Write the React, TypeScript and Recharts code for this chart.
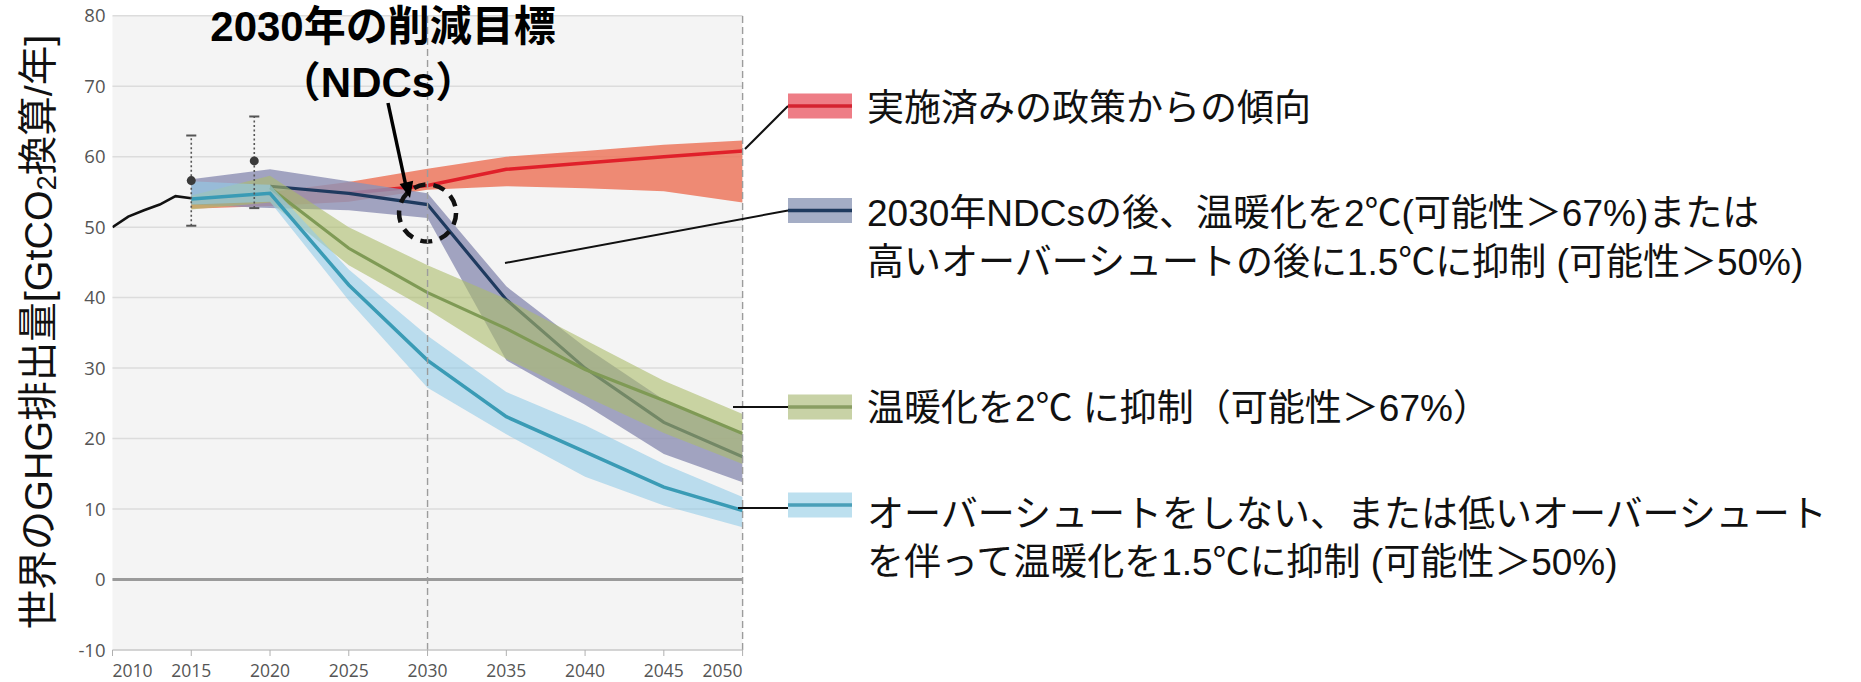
import React from "react";
import {
  ComposedChart,
  Area,
  Line,
  XAxis,
  YAxis,
  CartesianGrid,
  ReferenceLine,
  ReferenceDot,
} from "recharts";

// Historical emissions (GtCO2e / yr)
const histYears = [2010, 2011, 2012, 2013, 2014, 2015];
const histValues = [50.0, 51.5, 52.4, 53.2, 54.4, 54.1];

// Scenario years
const scenarioYears = [2015, 2020, 2025, 2030, 2035, 2040, 2045, 2050];

// Trend from implemented policies
const policyLow = [52.6, 53.0, 53.6, 55.3, 55.8, 55.5, 55.1, 53.5];
const policyMid = [null, null, 54.8, 55.9, 58.2, 59.1, 60.0, 60.8];
const policyHigh = [53.8, 55.0, 56.4, 58.3, 60.0, 60.8, 61.7, 62.3];

// NDCs to 2030, then 2°C / 1.5°C with high overshoot
const ndcLow = [53.2, 52.7, 52.4, 51.3, 31.1, 24.8, 17.8, 13.8];
const ndcMid = [null, 55.8, 54.8, 53.2, 39.7, 30.0, 22.3, 17.4];
const ndcHigh = [56.8, 58.2, 56.5, 54.8, 41.6, 33.0, 25.5, 20.7];

// Limit warming to 2°C
const twoLow = [52.5, 53.5, 44.6, 38.3, 31.3, 26.0, 20.8, 16.4];
const twoMid = [null, 55.6, 47.0, 40.7, 35.6, 29.8, 25.4, 20.7];
const twoHigh = [54.5, 57.3, 50.0, 44.6, 39.8, 34.0, 28.2, 23.5];

// Limit warming to 1.5°C with no or limited overshoot
const oneFiveLow = [53.2, 53.6, 39.6, 27.2, 20.6, 14.6, 10.5, 7.4];
const oneFiveMid = [54.0, 54.8, 41.8, 31.1, 23.1, 18.1, 13.1, 9.8];
const oneFiveHigh = [56.5, 56.0, 44.0, 34.6, 26.6, 21.9, 16.4, 11.7];

// Uncertainty ranges of recent estimates
const errYears = [2015, 2019];
const errMid = [56.6, 59.4];
const errLow = [50.2, 52.7];
const errHigh = [63.0, 65.7];

const xTicks = [2010, 2015, 2020, 2025, 2030, 2035, 2040, 2045, 2050];
const yTicks = [-10, 0, 10, 20, 30, 40, 50, 60, 70, 80];

const legendLabels = [
  ["実施済みの政策からの傾向"],
  [
    "2030年NDCsの後、温暖化を2℃(可能性＞67%)または",
    "高いオーバーシュートの後に1.5℃に抑制 (可能性＞50%)",
  ],
  ["温暖化を2℃ に抑制（可能性＞67%）"],
  [
    "オーバーシュートをしない、または低いオーバーシュート",
    "を伴って温暖化を1.5℃に抑制 (可能性＞50%)",
  ],
];

const allYears = Array.from(new Set([...histYears, ...scenarioYears])).sort(
  (a, b) => a - b
);

const rows = allYears.map((year) => {
  const h = histYears.indexOf(year);
  const s = scenarioYears.indexOf(year);
  const pick = (arr: (number | null)[]) => (s >= 0 ? arr[s] : null);
  const range = (lo: number[], hi: number[]) => (s >= 0 ? [lo[s], hi[s]] : null);
  return {
    year,
    hist: h >= 0 ? histValues[h] : null,
    policyRange: range(policyLow, policyHigh),
    policyMid: pick(policyMid),
    ndcRange: range(ndcLow, ndcHigh),
    ndcMid: pick(ndcMid),
    twoRange: range(twoLow, twoHigh),
    twoMid: pick(twoMid),
    oneFiveRange: range(oneFiveLow, oneFiveHigh),
    oneFiveMid: pick(oneFiveMid),
  };
});

const TICK_FONT = "'Open Sans', 'DejaVu Sans', sans-serif";
const TEXT_FONT = "'Liberation Sans', 'Noto Sans CJK JP', sans-serif";

const XTick = (props: any) => {
  const { x, y, payload } = props;
  const v = payload.value;
  const anchor = v === 2010 ? "start" : v === 2050 ? "end" : "middle";
  return (
    <text
      x={x}
      y={y}
      dy="0.71em"
      textAnchor={anchor}
      fill="#555"
      fontSize={17.5}
      fontFamily={TICK_FONT}
    >
      {v}
    </text>
  );
};

const YTick = (props: any) => {
  const { x, y, payload } = props;
  return (
    <text
      x={x}
      y={y}
      dy="0.355em"
      textAnchor="end"
      fill="#555"
      fontSize={18.5}
      fontFamily={TICK_FONT}
    >
      {payload.value}
    </text>
  );
};

// Each scenario: a shaded range and its median curve, stacked in this order
const scenarios = [
  { range: "policyRange", mid: "policyMid", fill: "#ec775d", opacity: 0.85, stroke: "#e0202a", width: 3.5 },
  { range: "ndcRange", mid: "ndcMid", fill: "#8f91b5", opacity: 0.82, stroke: "#1f3a5f", width: 3.2 },
  { range: "twoRange", mid: "twoMid", fill: "#abbd6b", opacity: 0.6, stroke: "#7f9a55", width: 3.2 },
  { range: "oneFiveRange", mid: "oneFiveMid", fill: "#92cce7", opacity: 0.6, stroke: "#3a9bb5", width: 3.5 },
];

const swatches = [
  { fill: "#ee7d86", line: "#d42330", cy: 106 },
  { fill: "#a4adc5", line: "#1f3a5e", cy: 210.5 },
  { fill: "#c8d2a6", line: "#8a9e63", cy: 407 },
  { fill: "#bde0ef", line: "#4a9fb8", cy: 505 },
];
const legendLineY = [[108], [213, 262], [408], [514, 562]];
const connectors = [
  [745, 149, 788, 106],
  [505, 263, 788, 210.5],
  [733, 407, 788, 407],
  [738, 508, 788, 508],
];

export default function App() {
  const capHalf = 0.32;
  return (
    <div
      style={{
        position: "absolute",
        left: 0,
        top: 0,
        width: 1861,
        height: 682,
        background: "#ffffff",
        overflow: "hidden",
      }}
    >
      <ComposedChart
        width={1861}
        height={682}
        data={rows}
        margin={{ top: 15.7, right: 1118.4, bottom: 2, left: 52.5 }}
      >
        <CartesianGrid
          vertical={false}
          stroke="#dcdcdc"
          strokeWidth={1.5}
          fill="#f4f4f4"
        />
        <XAxis
          dataKey="year"
          type="number"
          domain={[2010, 2050]}
          ticks={xTicks}
          allowDataOverflow
          height={30}
          tickSize={6}
          tickMargin={9}
          stroke="#c4c4c4"
          tickLine={{ stroke: "#b0b0b0" }}
          tick={<XTick />}
        />
        <YAxis
          type="number"
          domain={[-10, 80]}
          ticks={yTicks}
          allowDataOverflow
          width={60}
          axisLine={false}
          tickLine={false}
          tickSize={0}
          tickMargin={7}
          tick={<YTick />}
        />
        <ReferenceLine y={0} stroke="#9a9a9a" strokeWidth={3} />
        <ReferenceLine x={2030} stroke="#9c9c9c" strokeWidth={1.4} strokeDasharray="7 4" />
        <ReferenceLine x={2050} stroke="#9c9c9c" strokeWidth={1.4} strokeDasharray="7 4" />

        {scenarios.flatMap((s, i) => [
          <Area
            key={s.range}
            dataKey={s.range}
            type="linear"
            stroke="none"
            fill={s.fill}
            fillOpacity={s.opacity}
            connectNulls
            dot={false}
            activeDot={false}
            isAnimationActive={false}
            zIndex={101 + i * 2}
          />,
          <Area
            key={s.mid}
            dataKey={s.mid}
            type="linear"
            stroke={s.stroke}
            strokeWidth={s.width}
            fill="none"
            connectNulls
            dot={false}
            activeDot={false}
            isAnimationActive={false}
            zIndex={102 + i * 2}
          />,
        ])}
        <Line
          dataKey="hist"
          type="linear"
          stroke="#111111"
          strokeWidth={2.6}
          dot={false}
          activeDot={false}
          isAnimationActive={false}
          zIndex={109}
        />

        {errYears.map((yr, i) => (
          <ReferenceLine
            key={`eb${yr}`}
            segment={[
              { x: yr, y: errLow[i] },
              { x: yr, y: errHigh[i] },
            ]}
            stroke="#555"
            strokeWidth={1.6}
            strokeDasharray="2 2.5"
            zIndex={110}
          />
        ))}
        {errYears.map((yr, i) => (
          <ReferenceLine
            key={`ebt${yr}`}
            segment={[
              { x: yr - capHalf, y: errHigh[i] },
              { x: yr + capHalf, y: errHigh[i] },
            ]}
            stroke="#555"
            strokeWidth={2}
            zIndex={110}
          />
        ))}
        {errYears.map((yr, i) => (
          <ReferenceLine
            key={`ebb${yr}`}
            segment={[
              { x: yr - capHalf, y: errLow[i] },
              { x: yr + capHalf, y: errLow[i] },
            ]}
            stroke="#555"
            strokeWidth={2}
            zIndex={110}
          />
        ))}
        {errYears.map((yr, i) => (
          <ReferenceDot
            key={`ed${yr}`}
            x={yr}
            y={errMid[i]}
            r={4.5}
            fill="#3a3a3a"
            stroke="none"
            zIndex={111}
          />
        ))}
        <ReferenceDot
          x={2030}
          y={52}
          r={28.5}
          fill="none"
          stroke="#111"
          strokeWidth={4.5}
          strokeDasharray="12 8"
          zIndex={112}
        />
      </ComposedChart>

      <svg
        width={1861}
        height={682}
        style={{ position: "absolute", left: 0, top: 0, pointerEvents: "none" }}
      >
        {/* Y axis title */}
        <text
          x={38}
          y={332}
          transform="rotate(-90 38 332)"
          textAnchor="middle"
          dominantBaseline="central"
          fontSize={39.5}
          fontFamily={TEXT_FONT}
          fill="#111"
        >
          世界のGHG排出量[GtCO
          <tspan fontSize={27} dy={9}>
            2
          </tspan>
          <tspan dy={-9}>換算/年]</tspan>
        </text>

        {/* 2030 target annotation */}
        <text
          x={383}
          y={26}
          textAnchor="middle"
          dominantBaseline="central"
          fontSize={42}
          fontWeight={700}
          fontFamily={TEXT_FONT}
          fill="#000"
        >
          2030年の削減目標
        </text>
        <text
          x={378}
          y={82}
          textAnchor="middle"
          dominantBaseline="central"
          fontSize={42}
          fontWeight={700}
          fontFamily={TEXT_FONT}
          fill="#000"
        >
          （NDCs）
        </text>
        <line x1={388} y1={103} x2={405.5} y2={184} stroke="#000" strokeWidth={3.5} />
        <polygon points="410,198 413.2,180.8 399.6,184" fill="#000" />

        {/* Legend */}
        {connectors.map((c, i) => (
          <line
            key={`c${i}`}
            x1={c[0]}
            y1={c[1]}
            x2={c[2]}
            y2={c[3]}
            stroke="#111"
            strokeWidth={2}
          />
        ))}
        {swatches.map((s, i) => (
          <g key={`s${i}`}>
            <rect x={788} y={s.cy - 12.5} width={64} height={25} fill={s.fill} />
            <line x1={788} y1={s.cy} x2={852} y2={s.cy} stroke={s.line} strokeWidth={3.5} />
          </g>
        ))}
        {legendLabels.map((lines, i) =>
          lines.map((t, j) => (
            <text
              key={`t${i}-${j}`}
              x={867}
              y={legendLineY[i][j]}
              dominantBaseline="central"
              fontSize={37}
              fontFamily={TEXT_FONT}
              fill="#111"
            >
              {t}
            </text>
          ))
        )}
      </svg>
    </div>
  );
}
